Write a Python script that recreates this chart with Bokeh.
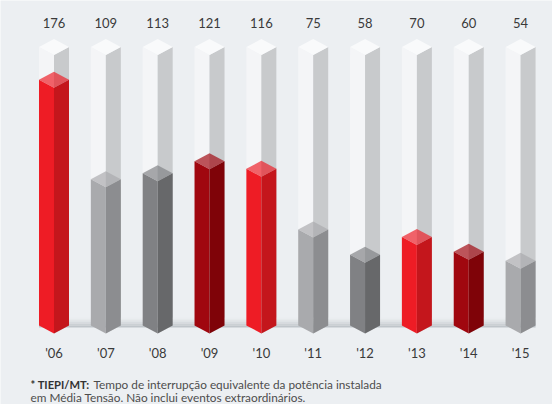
from bokeh.plotting import figure
from bokeh.models import Range1d
from bokeh.core.properties import value
from bokeh.embed import file_html
from bokeh.resources import INLINE

# ---------------- data ----------------
years = ["'06", "'07", "'08", "'09", "'10", "'11", "'12", "'13", "'14", "'15"]
tiepi = [176, 109, 113, 121, 116, 75, 58, 70, 60, 54]
bar_style = ["red", "light", "dark", "deep", "red", "light", "dark", "red", "deep", "light"]
note_bold = "* TIEPI/MT:"
note_line1 = "Tempo de interrupção equivalente da potência instalada"
note_line2 = "em Média Tensão. Não inclui eventos extraordinários."

# ---------------- styles ----------------
PALETTE = {
    "red": ("#ee1c25", "#c4161c"),
    "deep": ("#a0070f", "#7f0308"),
    "light": ("#a9aaad", "#8c8d90"),
    "dark": ("#808184", "#67686a"),
}
BG = "#eceff2"
COL_LEFT, COL_RIGHT, COL_TOPC = "#f4f5f7", "#c8cacc", "#f9fafb"
FONT = "Lato"

W, H = 552, 404
X_START, X_END = -1.032, 9.616
Y_START, Y_END = -42.86, 229.4
COL_TOP = 198.0
FLOOR = 10.4


def ux(px):
    return px * (X_END - X_START) / W


def uy(px):
    return px * (Y_END - Y_START) / H


def fy(page_y):
    return Y_END - uy(page_y)


def fx(page_x):
    return X_START + ux(page_x)


HALF = ux(15)
D = uy(8)

p = figure(width=W, height=H, output_backend="svg", toolbar_location=None,
           x_range=Range1d(X_START, X_END), y_range=Range1d(Y_START, Y_END),
           min_border=0, background_fill_color=BG, border_fill_color=BG,
           outline_line_color=None)
p.axis.visible = False
p.grid.visible = False

idx = list(range(len(years)))

# background columns
lx, ly, rx, ry, tx, ty = [], [], [], [], [], []
for c in idx:
    lx.append([c - HALF, c - HALF, c, c])
    ly.append([FLOOR, COL_TOP, COL_TOP - D, FLOOR - D])
    rx.append([c, c, c + HALF, c + HALF])
    ry.append([FLOOR - D, COL_TOP - D, COL_TOP, FLOOR])
    tx.append([c - HALF, c, c + HALF, c])
    ty.append([COL_TOP, COL_TOP + D, COL_TOP, COL_TOP - D])
p.patches(lx, ly, fill_color=COL_LEFT, line_color=None)
p.patches(rx, ry, fill_color=COL_RIGHT, line_color=None)
p.patches(tx, ty, fill_color=COL_TOPC, line_color=None)

# floor shelf (gradient approximated)
shelf = ["#eaedf0", "#e2e5e8", "#d7dbdf", "#cbd0d4", "#bfc5ca"]
for k, col in enumerate(shelf):
    top = fy(317 + 2 * k)
    bot = fy(319 + 2 * k)
    p.quad(left=[idx[0] - HALF], right=[idx[-1] + HALF], top=[top], bottom=[bot],
           fill_color=col, line_color=None)

# bars
for c, v, s in zip(idx, tiepi, bar_style):
    left_c, right_c = PALETTE[s]
    p.patch([c - HALF, c - HALF, c, c], [FLOOR, v, v - D, FLOOR - D],
            fill_color=left_c, line_color=None)
    p.patch([c, c, c + HALF, c + HALF], [FLOOR - D, v - D, v, FLOOR],
            fill_color=right_c, line_color=None)
    p.patch([c - HALF, c, c + HALF, c], [v, v + D, v, v - D],
            fill_color=left_c, fill_alpha=0.68, line_color=None)

# value labels
p.text(x=idx, y=[fy(22)] * len(idx), text=[str(v) for v in tiepi],
       text_align="center", text_baseline="middle", text_font=value(FONT),
       text_font_size="13px", text_color="#3a3a3a")

# year labels
p.text(x=idx, y=[fy(352)] * len(idx), text=years,
       text_align="center", text_baseline="middle", text_font=value(FONT),
       text_font_size="13px", text_color="#3a3a3a")

# footnote
p.text(x=[fx(30)], y=[fy(383.5)], text=[note_bold], text_align="left",
       text_baseline="alphabetic", text_font=value(FONT), text_font_style="bold",
       text_font_size="11.2px", text_color="#333333")
p.text(x=[fx(93)], y=[fy(383.5)], text=[note_line1], text_align="left",
       text_baseline="alphabetic", text_font=value(FONT),
       text_font_size="11.8px", text_color="#4d4d4d")
p.text(x=[fx(30)], y=[fy(397)], text=[note_line2], text_align="left",
       text_baseline="alphabetic", text_font=value(FONT),
       text_font_size="11.8px", text_color="#4d4d4d")

html = file_html(p, INLINE)
html = html.replace("<body>", '<body style="margin:0;background:%s;overflow:hidden">' % BG, 1)
open("out.html", "w").write(html)
